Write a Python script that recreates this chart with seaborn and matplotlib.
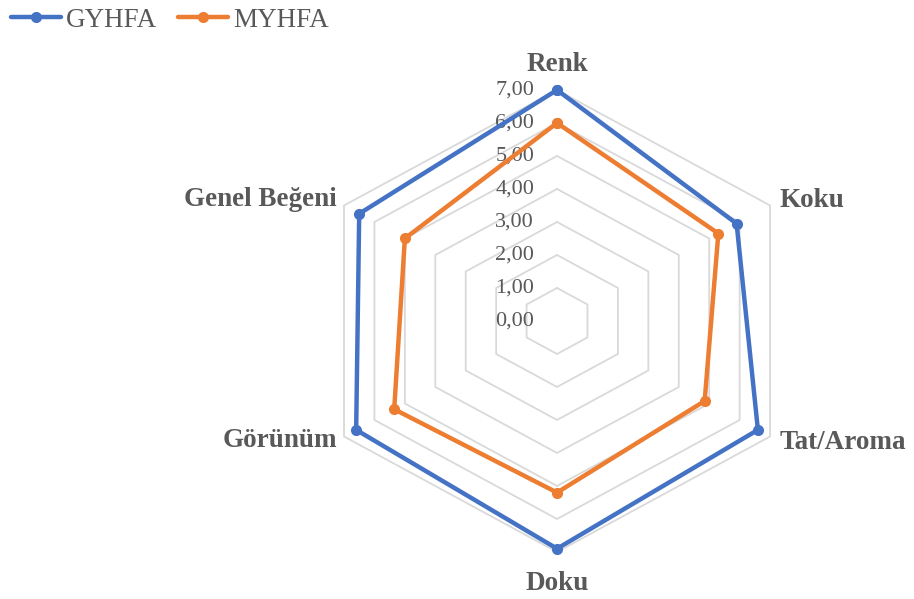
import numpy as np
import pandas as pd
import matplotlib
matplotlib.use("Agg")
import matplotlib.pyplot as plt
from matplotlib.lines import Line2D
from matplotlib.transforms import offset_copy
import seaborn as sns

categories = ["Renk", "Koku", "Tat/Aroma", "Doku", "Görünüm", "Genel Beğeni"]
gyhfa = [7.00, 5.90, 6.60, 6.90, 6.60, 6.50]
myhfa = [6.00, 5.30, 4.85, 5.20, 5.35, 5.00]
series_names = ["GYHFA", "MYHFA"]
tick_values = [0, 1, 2, 3, 4, 5, 6, 7]
tick_labels = ["0,00", "1,00", "2,00", "3,00", "4,00", "5,00", "6,00", "7,00"]

colors = {"GYHFA": "#4472C4", "MYHFA": "#ED7D31"}
grey_text = "#595959"
grid_color = "#D9D9D9"

sns.set_theme(style="white")
plt.rcParams["font.family"] = ["Liberation Serif", "DejaVu Serif"]

n = len(categories)
angles = list(np.linspace(0, 2 * np.pi, n, endpoint=False))
closed_angles = angles + [2 * np.pi]

rows = []
for name, vals in zip(series_names, [gyhfa, myhfa]):
    for a, v in zip(closed_angles, vals + vals[:1]):
        rows.append({"theta": a, "value": v, "series": name})
df = pd.DataFrame(rows)

fig = plt.figure(figsize=(9.14, 5.99), dpi=100)
ax = fig.add_axes([0.3403, 0.0785, 0.5383, 0.7713], projection="polar")
ax.set_aspect("auto")
ax.set_theta_offset(np.pi / 2)
ax.set_theta_direction(-1)
ax.set_ylim(0, 7)
ax.grid(False)
ax.spines["polar"].set_visible(False)
ax.set_xticks([])
ax.set_yticks([])
ax.patch.set_alpha(0)

# hexagonal gridlines
for r in tick_values[1:]:
    ax.plot(closed_angles, [r] * len(closed_angles), color=grid_color,
            lw=1.3, zorder=1, clip_on=False)

sns.lineplot(data=df, x="theta", y="value", hue="series", palette=colors,
             hue_order=series_names, marker="o", markersize=8,
             markeredgewidth=0, linewidth=3.2, sort=False, estimator=None,
             legend=False, ax=ax, zorder=3)
for line in ax.lines:
    line.set_clip_on(False)
ax.set_xlabel("")
ax.set_ylabel("")

# radial value labels along the top axis
lab_tr = offset_copy(ax.transData, fig=fig, x=-16.5, y=0, units="points")
for v, t in zip(tick_values, tick_labels):
    ax.text(0, v, t, transform=lab_tr, ha="right", va="center",
            fontsize=16, color=grey_text, zorder=2)

# category labels
placements = [
    (0, 13.5, "center", "baseline"),
    (7, 3.5, "left", "center"),
    (7, -4, "left", "center"),
    (0, -13.5, "center", "top"),
    (-5, -3, "right", "center"),
    (-5, 4, "right", "center"),
]
for a, cat, (dx, dy, ha, va) in zip(angles, categories, placements):
    tr = offset_copy(ax.transData, fig=fig, x=dx, y=dy, units="points")
    ax.text(a, 7, cat, transform=tr, ha=ha, va=va, fontsize=19.5,
            fontweight="bold", color=grey_text)

handles = [Line2D([0], [0], color=colors[s], lw=3.2, marker="o",
                  markersize=8, markeredgewidth=0) for s in series_names]
leg = fig.legend(handles, series_names, loc="upper left",
                 bbox_to_anchor=(-0.015, 1.028), ncol=2, frameon=False,
                 handlelength=1.85, handletextpad=0.2, columnspacing=0.75,
                 prop={"size": 19.5})
for txt in leg.get_texts():
    txt.set_color(grey_text)

fig.savefig("out.png", dpi=100)
